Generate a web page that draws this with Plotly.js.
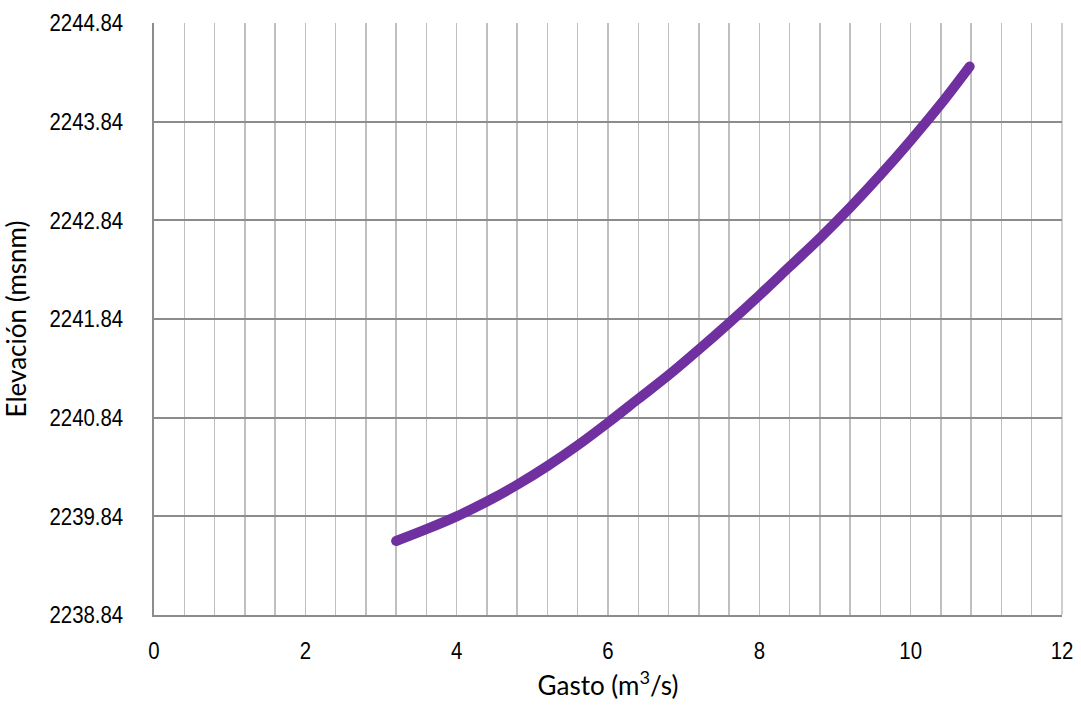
<!DOCTYPE html>
<html>
<head>
<meta charset="utf-8">
<script src="https://cdn.plot.ly/plotly-3.0.1.min.js"></script>
<style>
  html, body { margin: 0; padding: 0; background: #fff; }
  #chart { width: 1081px; height: 711px; }
  .scatterlayer .js-line { stroke-linecap: round; }
</style>
</head>
<body>
<div id="chart"></div>
<script>
// Gasto (m3/s)
const gasto = [3.2, 3.6, 4.0, 4.4, 4.8, 5.2, 5.6, 6.0, 6.4, 6.8, 7.2, 7.6, 8.0, 8.4, 8.8, 9.2, 9.6, 10.0, 10.4, 10.78];
// Elevación (msnm)
const elevacion = [2239.59, 2239.71, 2239.84, 2239.99, 2240.16, 2240.35, 2240.56, 2240.79, 2241.03, 2241.27, 2241.53, 2241.80, 2242.08, 2242.37, 2242.66, 2242.97, 2243.30, 2243.65, 2244.02, 2244.40];
const yTicks = [2238.84, 2239.84, 2240.84, 2241.84, 2242.84, 2243.84, 2244.84];
const xTicks = [0, 2, 4, 6, 8, 10, 12];

const tickFont = { family: '"Liberation Sans", Arial, sans-serif', size: 24, color: '#000' };
const titleFont = { family: 'Lato, "Open Sans", sans-serif', size: 26, color: '#000' };

const trace = {
  x: gasto,
  y: elevacion,
  type: 'scatter',
  mode: 'lines',
  line: { color: '#7030A0', width: 10, shape: 'spline', smoothing: 1 },
  hoverinfo: 'skip',
  showlegend: false
};

const layout = {
  width: 1081,
  height: 711,
  margin: { l: 154, r: 19, t: 23, b: 96 },
  paper_bgcolor: '#fff',
  plot_bgcolor: '#fff',
  showlegend: false,
  xaxis: {
    range: [0, 12],
    tickvals: xTicks,
    ticktext: xTicks.map(String),
    showgrid: true,
    gridcolor: '#bfbfbf',
    gridwidth: 1.5,
    minor: { dtick: 0.4, tick0: 0, showgrid: true, gridcolor: '#bfbfbf', gridwidth: 1.5 },
    showline: true,
    linecolor: '#8c8c8c',
    linewidth: 2,
    zeroline: false,
    ticks: '',
    ticklabelstandoff: 13,
    tickfont: tickFont,
    title: { text: 'Gasto (m<sup>3</sup>/s)', font: titleFont, standoff: 14 }
  },
  yaxis: {
    range: [2238.84, 2244.84],
    tickvals: yTicks,
    ticktext: yTicks.map(v => v.toFixed(2)),
    showgrid: true,
    gridcolor: '#8c8c8c',
    gridwidth: 2,
    showline: true,
    linecolor: '#8c8c8c',
    linewidth: 2,
    zeroline: false,
    ticks: '',
    ticklabelstandoff: 24,
    tickfont: tickFont,
    title: { text: 'Elevación (msnm)', font: titleFont, standoff: 2 }
  },
  shapes: [
    { type: 'line', xref: 'paper', yref: 'paper', x0: 1, x1: 1, y0: 0, y1: 1, line: { color: '#bfbfbf', width: 1.5 }, layer: 'below' }
  ]
};

Plotly.newPlot('chart', [trace], layout, { staticPlot: true, displayModeBar: false }).then(function (gd) {
  // narrow the tick-label glyphs horizontally, like the reference's condensed face
  gd.querySelectorAll('.xtick text, .ytick text').forEach(function (t) {
    const x = parseFloat(t.getAttribute('x')) || 0;
    const tr = t.getAttribute('transform') || '';
    t.setAttribute('transform', tr + ' translate(' + x + ',0) scale(0.85,1) translate(' + (-x) + ',0)');
  });
});
</script>
</body>
</html>
